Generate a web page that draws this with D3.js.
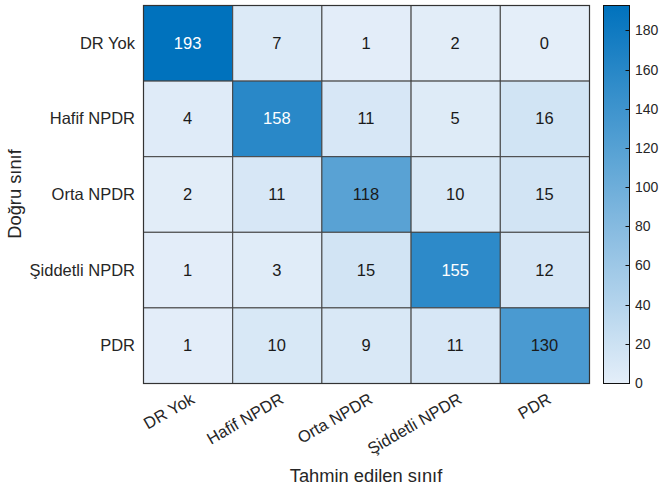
<!DOCTYPE html>
<html>
<head>
<meta charset="utf-8">
<script src="https://cdn.jsdelivr.net/npm/d3@7"></script>
<style>
  html, body { margin: 0; padding: 0; background: #fff; }
  svg { display: block; font-family: "Liberation Sans", Arial, Helvetica, sans-serif; }
</style>
</head>
<body>
<svg id="chart" width="659" height="489"></svg>
<script>
// Confusion matrix: rows = true class, columns = predicted class
const classes = ["DR Yok", "Hafif NPDR", "Orta NPDR", "Şiddetli NPDR", "PDR"];
const row0 = [193, 7, 1, 2, 0];
const row1 = [4, 158, 11, 5, 16];
const row2 = [2, 11, 118, 10, 15];
const row3 = [1, 3, 15, 155, 12];
const row4 = [1, 10, 9, 11, 130];
const matrix = [row0, row1, row2, row3, row4];
const colorbarTicks = [0, 20, 40, 60, 80, 100, 120, 140, 160, 180];
const xTitle = "Tahmin edilen sınıf";
const yTitle = "Doğru sınıf";

const svg = d3.select("#chart");
const plot = { left: 143, top: 5, right: 589, bottom: 383 };
const bar = { left: 603, right: 629 };

const cells = [];
matrix.forEach((r, i) => r.forEach((v, j) => cells.push({ row: classes[i], col: classes[j], value: v })));
const vmax = d3.max(cells, d => d.value);

const x = d3.scaleBand().domain(classes).range([plot.left, plot.right]);
const y = d3.scaleBand().domain(classes).range([plot.top, plot.bottom]);
const color = d3.scaleLinear().domain([0, vmax])
  .range(["#e4eef9", "#0072bd"]).interpolate(d3.interpolateRgb);

// Heatmap cells
svg.append("g").selectAll("rect").data(cells).join("rect")
  .attr("x", d => x(d.col) + 0.5)
  .attr("y", d => y(d.row) + 0.5)
  .attr("width", x.bandwidth())
  .attr("height", y.bandwidth())
  .attr("fill", d => color(d.value))
  .attr("stroke", "#444")
  .attr("stroke-width", 1);

// Outer frame
svg.append("rect")
  .attr("x", plot.left + 0.5).attr("y", plot.top + 0.5)
  .attr("width", plot.right - plot.left).attr("height", plot.bottom - plot.top)
  .attr("fill", "none").attr("stroke", "#333").attr("stroke-width", 1.2);

// Cell values
svg.append("g").selectAll("text").data(cells).join("text")
  .attr("x", d => x(d.col) + x.bandwidth() / 2)
  .attr("y", d => y(d.row) + y.bandwidth() / 2)
  .attr("text-anchor", "middle")
  .attr("dominant-baseline", "central")
  .attr("font-size", 16.5)
  .attr("fill", d => d.value > 140 ? "#ffffff" : "#1a1a1a")
  .text(d => d.value);

// Row labels
svg.append("g").selectAll("text").data(classes).join("text")
  .attr("x", plot.left - 8)
  .attr("y", d => y(d) + y.bandwidth() / 2)
  .attr("text-anchor", "end")
  .attr("dominant-baseline", "central")
  .attr("font-size", 16.5)
  .attr("fill", "#262626")
  .text(d => d);

// Column labels, rotated
svg.append("g").selectAll("text").data(classes).join("text")
  .attr("transform", d => `translate(${x(d) + x.bandwidth() / 2 + 2},${plot.bottom + 9}) rotate(-30)`)
  .attr("text-anchor", "end")
  .attr("dy", "0.72em")
  .attr("font-size", 16.5)
  .attr("fill", "#262626")
  .text(d => d);

// Axis titles
svg.append("text")
  .attr("x", (plot.left + plot.right) / 2)
  .attr("y", 482)
  .attr("text-anchor", "middle")
  .attr("font-size", 18.3)
  .attr("fill", "#262626")
  .text(xTitle);

svg.append("text")
  .attr("transform", `translate(21,${(plot.top + plot.bottom) / 2}) rotate(-90)`)
  .attr("text-anchor", "middle")
  .attr("font-size", 18.3)
  .attr("fill", "#262626")
  .text(yTitle);

// Colorbar
const defs = svg.append("defs");
const grad = defs.append("linearGradient").attr("id", "cbar")
  .attr("x1", 0).attr("y1", 1).attr("x2", 0).attr("y2", 0);
d3.range(0, 1.0001, 0.1).forEach(t => {
  grad.append("stop").attr("offset", t).attr("stop-color", color(t * vmax));
});
const cy = d3.scaleLinear().domain([0, vmax]).range([plot.bottom, plot.top]);

svg.append("rect")
  .attr("x", bar.left + 0.5).attr("y", plot.top + 0.5)
  .attr("width", bar.right - bar.left).attr("height", plot.bottom - plot.top)
  .attr("fill", "url(#cbar)")
  .attr("stroke", "#111").attr("stroke-width", 1);

const cAxis = svg.append("g");
cAxis.selectAll("line").data(colorbarTicks).join("line")
  .attr("x1", bar.right - 3.5).attr("x2", bar.right + 1)
  .attr("y1", d => Math.round(cy(d)) + 0.5).attr("y2", d => Math.round(cy(d)) + 0.5)
  .attr("stroke", "#111").attr("stroke-width", 1);
cAxis.selectAll("text").data(colorbarTicks).join("text")
  .attr("x", bar.right + 6)
  .attr("y", d => cy(d))
  .attr("dominant-baseline", "central")
  .attr("font-size", 14)
  .attr("fill", "#262626")
  .text(d => d);
</script>
</body>
</html>
